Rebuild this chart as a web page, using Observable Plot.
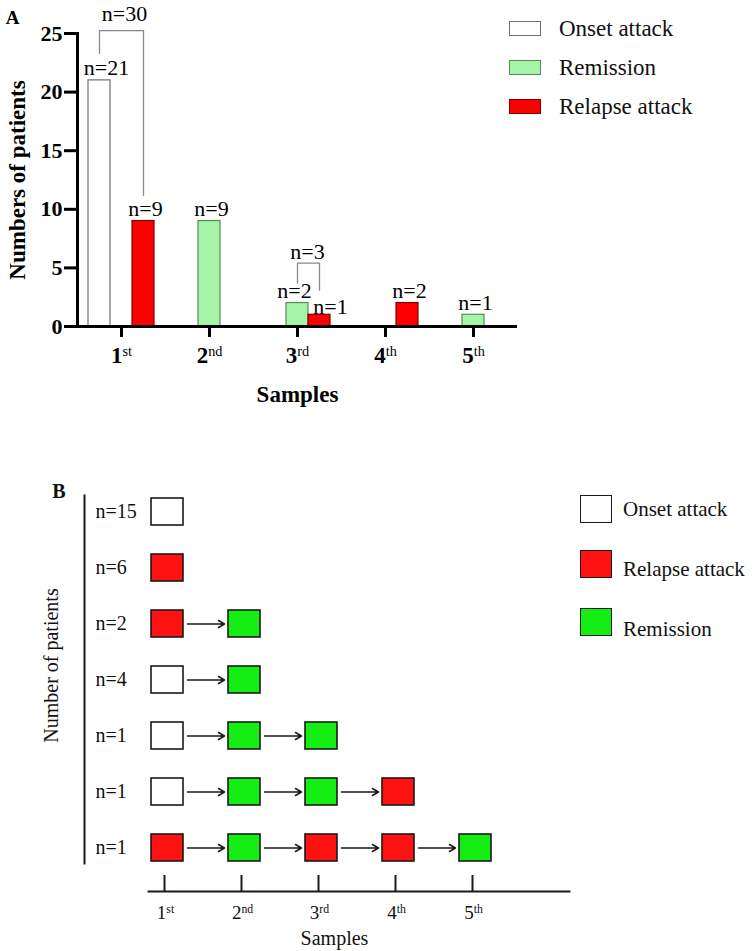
<!DOCTYPE html>
<html><head><meta charset="utf-8">
<script src="https://cdn.jsdelivr.net/npm/d3@7"></script>
<script src="https://cdn.jsdelivr.net/npm/@observablehq/plot@0.6"></script>
<style>
body{margin:0;background:#fff;}
#wrap{position:relative;width:756px;height:951px;overflow:hidden;background:#fff;font-family:"Times New Roman","Liberation Serif",Times,serif;}
#wrap svg{position:absolute;left:0;overflow:visible;}
.sw{position:absolute;box-sizing:border-box;}
.lt{position:absolute;white-space:nowrap;line-height:1;color:#111;}
</style></head><body><div id="wrap"></div>
<script>
// ---------- data ----------
const samples = ["1st", "2nd", "3rd", "4th", "5th"];
const statusesA = ["Onset attack", "Remission", "Relapse attack"];
// Panel A: bar counts
const countSamples  = ["1st", "1st", "2nd", "3rd", "3rd", "4th", "5th"];
const countStatuses = ["Onset attack", "Relapse attack", "Remission", "Remission", "Relapse attack", "Relapse attack", "Remission"];
const countValues   = [21, 9, 9, 2, 1, 2, 1];
const yTicks = [0, 5, 10, 15, 20, 25];
// Panel A: brackets (values in patients units)
const bracketLabels  = ["n=30", "n=3"];
const bracketSamples = ["1st", "3rd"];
const bracketFrom    = ["Onset attack", "Remission"];
const bracketTo      = ["Relapse attack", "Relapse attack"];
const bracketTop     = [25.25, 5.4];
const bracketFromEnd = [23.3, 3.7];
const bracketToEnd   = [11.2, 3.1];
const bracketLabelY  = [26.1, 5.8];
// Panel B: sample sequences per patient group
const legendB = ["Onset attack", "Relapse attack", "Remission"];
const patternCounts = ["n=15", "n=6", "n=2", "n=4", "n=1", "n=1", "n=1"];
const patterns = [
  ["Onset attack"],
  ["Relapse attack"],
  ["Relapse attack", "Remission"],
  ["Onset attack", "Remission"],
  ["Onset attack", "Remission", "Remission"],
  ["Onset attack", "Remission", "Remission", "Relapse attack"],
  ["Relapse attack", "Remission", "Relapse attack", "Relapse attack", "Remission"]
];

// ---------- styles ----------
const FONT = '"Times New Roman","Liberation Serif",Times,serif';
const fillA   = {"Onset attack": "#ffffff", "Remission": "#a6f4a6", "Relapse attack": "#ff0000"};
const strokeA = {"Onset attack": "#6e6e6e", "Remission": "#5a8a5a", "Relapse attack": "#7a0000"};
const fillB   = {"Onset attack": "#ffffff", "Relapse attack": "#ff1212", "Remission": "#14ee14"};
const W = 756;

// ---------- derived tables ----------
const key = (s, st) => s + "|" + st;
const xDomainA = samples.flatMap((s, i) => [...statusesA.map(st => key(s, st)), ...(i < samples.length - 1 ? ["gap" + i] : [])]);
const midKeys = samples.map(s => key(s, statusesA[1]));
const bars = countValues.map((n, i) => ({key: key(countSamples[i], countStatuses[i]), sample: countSamples[i], status: countStatuses[i], n}));
const bracketPts = bracketLabels.flatMap((lab, i) => [
  {id: i, key: key(bracketSamples[i], bracketFrom[i]), v: bracketFromEnd[i]},
  {id: i, key: key(bracketSamples[i], bracketFrom[i]), v: bracketTop[i]},
  {id: i, key: key(bracketSamples[i], bracketTo[i]), v: bracketTop[i]},
  {id: i, key: key(bracketSamples[i], bracketTo[i]), v: bracketToEnd[i]}
]);
const bracketText = bracketLabels.map((t, i) => ({t, key: key(bracketSamples[i], statusesA[1]), v: bracketLabelY[i]}));
const cellsB = patterns.flatMap((p, r) => p.map((st, c) => ({row: r, sample: samples[c], status: st})));
const arrowsB = patterns.flatMap((p, r) => p.slice(1).map((st, c) => ({row: r, from: samples[c], to: samples[c + 1]})));

function supify(svg, supWeight) {
  d3.select(svg).selectAll("text").each(function () {
    const m = /^(\d)(st|nd|rd|th)$/.exec(this.textContent);
    if (!m) return;
    const sel = d3.select(this);
    sel.text(null);
    sel.append("tspan").text(m[1]);
    sel.append("tspan").attr("dy", "-0.48em").attr("font-size", "0.62em").attr("font-weight", supWeight).text(m[2]);
  });
}

const wrap = document.getElementById("wrap");
const title = {textAnchor: "middle", lineAnchor: "middle"};

// ---------- Panel A ----------
const is3rd = d => d.sample === "3rd";
const nText = {x: "key", y: "n", text: d => "n=" + d.n, lineAnchor: "bottom", fontSize: 22};
const plotA = Plot.plot({
  width: W, height: 420,
  marginTop: 33, marginBottom: 94, marginLeft: 77, marginRight: 239,
  style: {fontFamily: FONT, fontSize: "22px", background: "transparent", color: "#000"},
  x: {type: "band", domain: xDomainA, paddingInner: 0, paddingOuter: 0.5},
  y: {domain: [0, 25]},
  marks: [
    ...statusesA.map(st => Plot.barY(bars.filter(d => d.status === st), {x: "key", y: "n", fill: fillA[st], stroke: strokeA[st], strokeWidth: 1.2})),
    Plot.ruleY([0], {stroke: "#000", strokeWidth: 3}),
    Plot.frame({anchor: "left", stroke: "#000", strokeWidth: 3}),
    Plot.axisY(yTicks, {tickSize: 13, tickPadding: 2, strokeWidth: 3, fontSize: 22, fontWeight: "bold", label: null}),
    Plot.axisX(midKeys, {tickSize: 11, tickPadding: 9, strokeWidth: 3, fontSize: 23, fontWeight: "bold", tickFormat: k => k.split("|")[0], label: null}),
    Plot.text(bars.filter(d => !is3rd(d) && d.status === "Onset attack"), {...nText, dy: -5, dx: 7}),
    Plot.text(bars.filter(d => !is3rd(d) && d.status !== "Onset attack"), {...nText, dy: -5, dx: 2}),
    Plot.text(bars.filter(d => is3rd(d) && d.status === "Remission"), {...nText, dy: -5, dx: -3}),
    Plot.text(bars.filter(d => is3rd(d) && d.status === "Relapse attack"), {...nText, dy: -1, dx: 11}),
    Plot.line(bracketPts, {x: "key", y: "v", z: "id", stroke: "#8a8a8a", strokeWidth: 1.3}),
    Plot.text(bracketText.slice(0, 1), {x: "key", y: "v", text: "t", lineAnchor: "bottom", dx: 3, fontSize: 22}),
    Plot.text(bracketText.slice(1), {x: "key", y: "v", text: "t", lineAnchor: "bottom", dx: 10, fontSize: 22}),
    Plot.text(["Numbers of patients"], {...title, text: d => d, frameAnchor: "left", rotate: -90, dx: -60, fontSize: 23, fontWeight: "bold"}),
    Plot.text(["Samples"], {...title, text: d => d, frameAnchor: "bottom", dy: 68, fontSize: 23, fontWeight: "bold"}),
    Plot.text(["A"], {...title, text: d => d, frameAnchor: "top-left", dx: -65, dy: -16, fontSize: 19, fontWeight: "bold"})
  ]
});
plotA.style.top = "0px";
supify(plotA, "normal");
wrap.appendChild(plotA);

// Legend A
const legA = {tops: [21, 60, 99], textTops: [16.5, 56.3, 95.2]};
statusesA.forEach((st, i) => {
  const sw = document.createElement("div");
  sw.className = "sw";
  Object.assign(sw.style, {left: "509px", top: legA.tops[i] + "px", width: "32px", height: "15px", background: fillA[st], border: "1.3px solid " + strokeA[st]});
  wrap.appendChild(sw);
  const t = document.createElement("div");
  t.className = "lt";
  Object.assign(t.style, {left: "559px", top: legA.textTops[i] + "px", fontSize: "23px"});
  t.textContent = st;
  wrap.appendChild(t);
});

// ---------- Panel B ----------
const plotB = Plot.plot({
  width: W, height: 481,
  marginTop: 25, marginBottom: 88, marginLeft: 84, marginRight: 187,
  style: {fontFamily: FONT, fontSize: "20px", background: "transparent", color: "#111"},
  x: {type: "band", domain: samples, paddingInner: 0.587, paddingOuter: 0, insetLeft: 66.5, insetRight: 77, axis: null},
  y: {type: "band", domain: d3.range(patterns.length), paddingInner: 0.519, paddingOuter: 0, insetTop: 2.3, insetBottom: 1.7, axis: null},
  marks: [
    Plot.frame({anchor: "left", stroke: "#1a1a1a", strokeWidth: 2}),
    ...legendB.map(st => Plot.cell(cellsB.filter(d => d.status === st), {x: "sample", y: "row", fill: fillB[st], stroke: "#1a1a1a", strokeWidth: 1.6})),
    Plot.arrow(arrowsB, {x1: "from", x2: "to", y1: "row", y2: "row", insetStart: 20, insetEnd: 20, headLength: 7, stroke: "#1a1a1a", strokeWidth: 1.5}),
    Plot.text(patternCounts, {y: (d, i) => i, text: d => d, frameAnchor: "left", textAnchor: "start", lineAnchor: "middle", dx: 11, fontSize: 20}),
    Plot.text(["Number of patients"], {...title, text: d => d, frameAnchor: "left", rotate: -90, dx: -33.4, dy: -14, fontSize: 20}),
    Plot.text(["B"], {...title, text: d => d, frameAnchor: "top-left", dx: -25.5, dy: -4.4, fontSize: 20, fontWeight: "bold"})
  ]
});
plotB.style.top = "470px";
wrap.appendChild(plotB);

// Panel B x axis (offset below the grid)
const plotBx = Plot.plot({
  width: W, height: 91,
  marginTop: 15, marginBottom: 60, marginLeft: 148, marginRight: 187,
  style: {fontFamily: FONT, fontSize: "19px", background: "transparent", color: "#111"},
  x: {type: "band", domain: samples, paddingInner: 0.587, paddingOuter: 0, insetLeft: 2.5, insetRight: 77, axis: null},
  marks: [
    Plot.frame({anchor: "bottom", stroke: "#1a1a1a", strokeWidth: 2}),
    Plot.ruleX(samples, {x: d => d, dx: -3, stroke: "#1a1a1a", strokeWidth: 2}),
    Plot.text(samples, {...title, x: d => d, text: d => d, frameAnchor: "bottom", dx: -2, dy: 21, fontSize: 19}),
    Plot.text(["Samples"], {...title, text: d => d, frameAnchor: "bottom", dx: -24.5, dy: 47, fontSize: 20})
  ]
});
plotBx.style.top = "860px";
supify(plotBx, "normal");
wrap.appendChild(plotBx);

// Legend B
const legB = {tops: [495, 550, 608], textTops: [498.8, 558.8, 618.8]};
legendB.forEach((st, i) => {
  const sw = document.createElement("div");
  sw.className = "sw";
  Object.assign(sw.style, {left: "580px", top: legB.tops[i] + "px", width: "32px", height: "28px", background: fillB[st], border: "1.6px solid #1a1a1a"});
  wrap.appendChild(sw);
  const t = document.createElement("div");
  t.className = "lt";
  Object.assign(t.style, {left: "623px", top: legB.textTops[i] + "px", fontSize: "21px"});
  t.textContent = st;
  wrap.appendChild(t);
});
</script></body></html>
